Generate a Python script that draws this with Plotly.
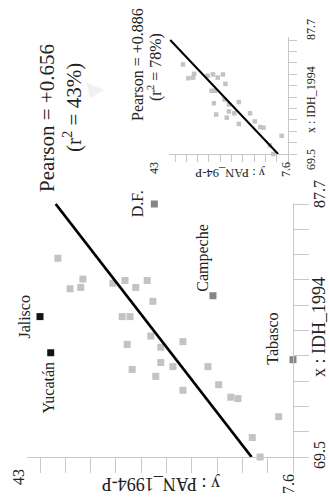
import plotly.graph_objects as go

W, H = 329, 500
FONT = "Liberation Serif"

# ---------------- data (x: IDH_1994, y: PAN_1994-P) ----------------
reg_idh = [83.8, 81.6, 81.7, 82.3, 82.0, 82.2, 81.7, 82.2, 80.7, 79.6, 79.6, 78.2, 77.8,
           77.6, 77.4, 76.3, 76.0, 76.0, 75.8, 75.3, 74.7, 74.3, 73.8, 73.7, 72.4, 70.9, 69.5]
reg_pan = [40.5, 38.8, 37.3, 37.0, 32.8, 31.1, 29.6, 28.0, 27.2, 31.5, 30.4, 27.5, 23.0,
           30.8, 26.1, 26.1, 24.4, 19.5, 30.1, 26.8, 18.0, 23.0, 16.3, 15.3, 9.6, 13.3, 12.2]

out_names = ["D.F.", "Campeche", "Tabasco", "Jalisco", "Yucatán"]
out_idh = [87.7, 81.1, 76.5, 79.6, 77.0]
out_pan = [27.0, 18.8, 7.6, 43.0, 41.5]
out_group = ["gray", "gray", "gray", "black", "black"]

fit_idh = [69.5, 87.7]
fit_pan_all = [13.4, 40.8]      # Pearson +0.656
fit_pan_reg = [10.7, 44.5]      # Pearson +0.886

x_min, x_max = 69.5, 87.7       # IDH_1994
y_min, y_max = 7.6, 43.0        # PAN_1994-P
n_ticks = 11

# ---------------- geometry helpers (pixels) ----------------
def xp(px):
    return px / W

def yp(py):
    return 1 - py / H

def axis_ranges(px43, px76, pxl, pxr, py695, py877, pyt, pyb):
    kx = (y_max - y_min) / (px76 - px43)
    ky = (x_max - x_min) / (py695 - py877)
    xr = [y_max + (px43 - pxl) * kx, y_min - (pxr - px76) * kx]
    yr = [x_min - (pyb - py695) * ky, x_max + (py877 - pyt) * ky]
    return xr, yr

M = dict(px43=40, px76=293, pxl=27, pxr=307, py695=457, py877=204, pyt=203, pyb=472)
I = dict(px43=175, px76=288, pxl=169, pxr=295, py695=154, py877=40, pyt=37, pyb=167)

m_xr, m_yr = axis_ranges(**M)
i_xr, i_yr = axis_ranges(**I)

tick_pan = [y_min + (y_max - y_min) * i / (n_ticks - 1) for i in range(n_ticks)]
tick_idh = [x_min + (x_max - x_min) * i / (n_ticks - 1) for i in range(n_ticks)]

LIGHT = "#c3c3c3"
DARK = "#858585"
BLACK = "#141414"
AX = "#c8c8c8"
TXT = "#222222"

fig = go.Figure()

fig.add_trace(go.Scatter(x=reg_pan, y=reg_idh, mode="markers", xaxis="x", yaxis="y",
                         marker=dict(symbol="square", size=7, color=LIGHT), cliponaxis=False,
                         showlegend=False, hoverinfo="skip"))
fig.add_trace(go.Scatter(x=out_pan, y=out_idh, mode="markers", xaxis="x", yaxis="y",
                         marker=dict(symbol="square", size=7,
                                     color=[DARK if g == "gray" else BLACK for g in out_group]),
                         cliponaxis=False, showlegend=False, hoverinfo="skip"))
fig.add_trace(go.Scatter(x=fit_pan_all, y=fit_idh, mode="lines", xaxis="x", yaxis="y",
                         line=dict(color="black", width=2.8), showlegend=False,
                         hoverinfo="skip"))

fig.add_trace(go.Scatter(x=reg_pan, y=reg_idh, mode="markers", xaxis="x2", yaxis="y2",
                         marker=dict(symbol="square", size=4.5, color=LIGHT), cliponaxis=False,
                         showlegend=False, hoverinfo="skip"))
fig.add_trace(go.Scatter(x=fit_pan_reg, y=fit_idh, mode="lines", xaxis="x2", yaxis="y2",
                         line=dict(color="black", width=2), showlegend=False,
                         hoverinfo="skip"))

def xaxis_cfg(g, xr, ticklen):
    return dict(domain=[xp(g["pxl"]), xp(g["pxr"])], range=xr, anchor="free",
                position=yp(g["py695"]), side="bottom", showline=True, linecolor=AX,
                linewidth=1, ticks="outside", tickvals=tick_pan, ticklen=ticklen,
                tickcolor=AX, tickwidth=1, showticklabels=False, showgrid=False,
                zeroline=False, fixedrange=True)

def yaxis_cfg(g, yr, ticklen):
    return dict(domain=[yp(g["pyb"]), yp(g["pyt"])], range=yr, anchor="free",
                position=xp(g["px76"]), side="right", showline=True, linecolor=AX,
                linewidth=1, ticks="outside", tickvals=tick_idh, ticklen=ticklen,
                tickcolor=AX, tickwidth=1, showticklabels=False, showgrid=False,
                zeroline=False, fixedrange=True)

ann = []

def text(t, px, py, size, angle=-90):
    ann.append(dict(text=t, x=xp(px), y=yp(py), xref="paper", yref="paper",
                    showarrow=False, textangle=angle, xanchor="center", yanchor="middle",
                    font=dict(family=FONT, size=size, color=TXT)))

# main texts
text("Pearson = +0.656", 47, 118, 21)
text("(r<sup>2</sup> = 43%)", 73, 108, 21)
text("x : IDH_1994", 319, 327, 18)
text("y : PAN_1994-P", 161, 484, 18, angle=180)
text(str(x_min), 319, 455, 16)
text(str(x_max), 319, 194, 16)
text(str(int(y_max)), 18, 477, 16)
text(str(y_min), 288, 484, 16)

# inset texts
text("Pearson = +0.886", 137, 65, 16)
text("(r<sup>2</sup> = 78%)", 154, 67, 16)
text("x : IDH_1994", 311, 100, 12)
text("y : PAN_94-P", 230, 173, 12.5, angle=180)
text(str(x_max), 311, 30, 12)
text(str(x_min), 311, 160, 12)
text(str(int(y_max)), 154, 168, 12)
text(str(y_min), 286, 170, 12)

# outlier labels
shifts = {"D.F.": (-17, 0), "Campeche": (-10, 38), "Tabasco": (-20, 21),
          "Jalisco": (-15, 0), "Yucatán": (-2, -35)}
for n, xi, yi in zip(out_names, out_pan, out_idh):
    sx, sy = shifts[n]
    ann.append(dict(text=n, x=xi, y=yi, xref="x", yref="y", showarrow=False,
                    textangle=-90, xshift=sx, yshift=sy,
                    font=dict(family=FONT, size=16, color=TXT)))

fig.update_layout(
    width=W, height=H, margin=dict(l=0, r=0, t=0, b=0),
    paper_bgcolor="white", plot_bgcolor="rgba(0,0,0,0)",
    xaxis=xaxis_cfg(M, m_xr, 15), yaxis=yaxis_cfg(M, m_yr, 15),
    xaxis2=xaxis_cfg(I, i_xr, 7), yaxis2=yaxis_cfg(I, i_yr, 8),
    annotations=ann, hovermode=False,
    shapes=[dict(type="path", xref="paper", yref="paper",
                 path=f"M {xp(86)} {yp(82)} L {xp(104)} {yp(90)} L {xp(90)} {yp(98)} Z",
                 fillcolor="#f1f1f1", line=dict(width=0))],
)

fig.write_html("out.html", config={"displayModeBar": False},
               post_script="document.body.style.margin='0';document.body.style.overflow='hidden';")
